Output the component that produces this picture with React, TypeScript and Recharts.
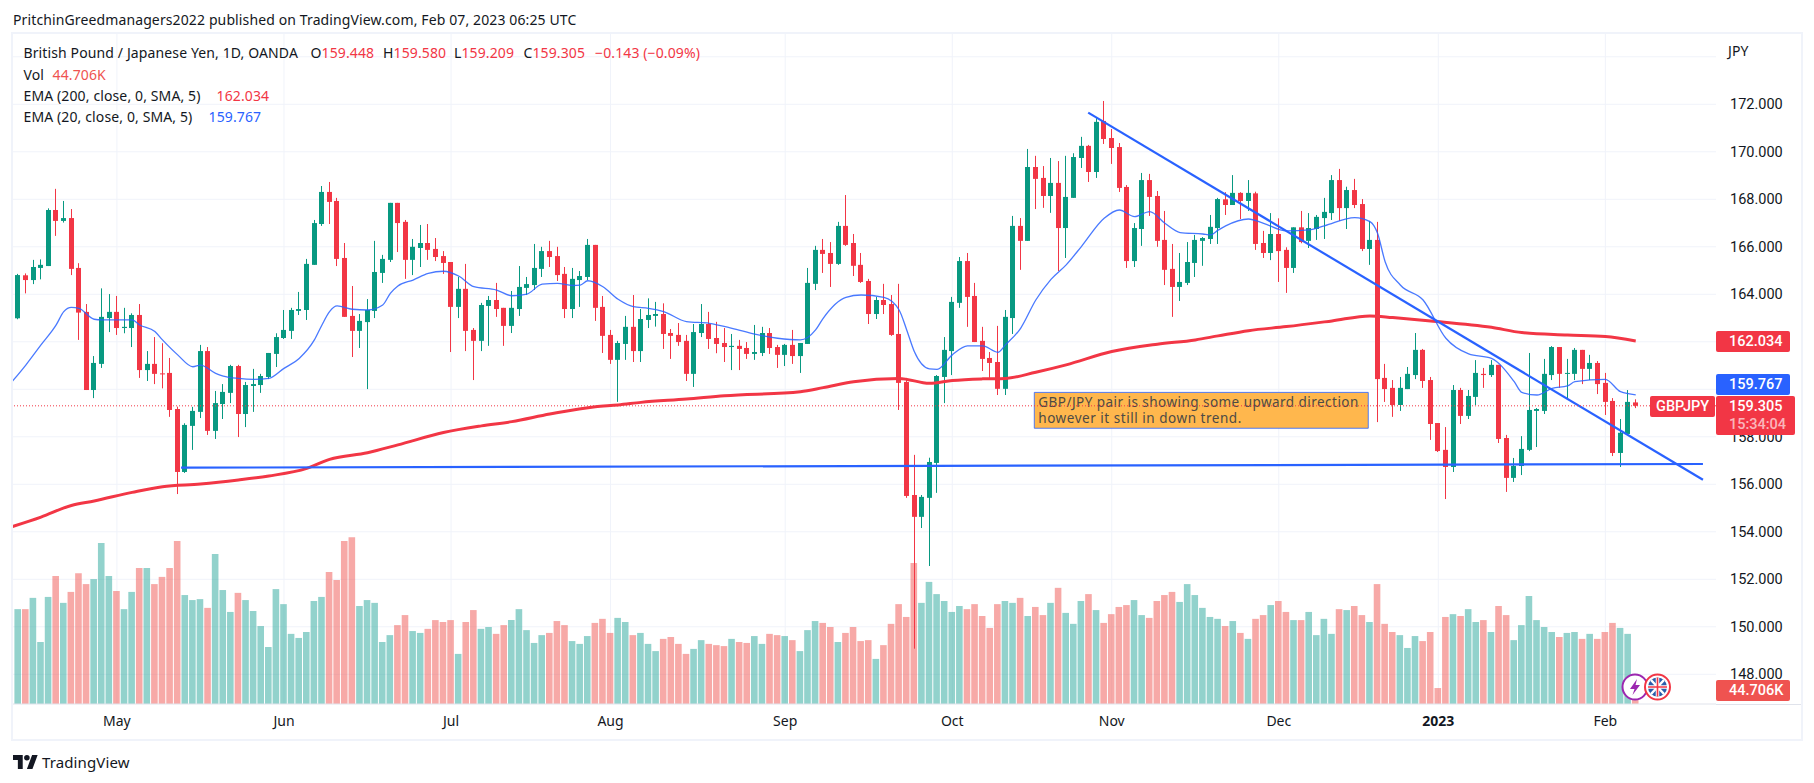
import React from 'react';
import {
    ComposedChart,
    Bar,
    Line,
    Cell,
    XAxis,
    YAxis,
    CartesianGrid,
    ReferenceLine,
    ReferenceArea
} from 'recharts';

const opens = [163.41,
    162.99,164.80,164.60,165.11,165.19,167.55,167.09,167.21,165.11,163.26,
    159.97,161.07,163.00,163.26,162.58,162.58,163.13,160.81,161.07,160.67,
    160.69,159.17,156.52,158.46,159.05,161.61,158.25,159.38,159.85,160.98,
    158.96,160.14,160.18,160.52,161.49,162.16,162.46,163.30,163.34,165.24,
    166.96,168.31,167.93,165.53,163.09,162.46,162.83,163.30,164.90,165.45,
    167.85,167.05,165.45,165.95,166.16,165.91,165.61,165.36,163.47,164.23,
    162.50,162.04,163.51,163.76,163.43,162.67,163.38,164.27,164.39,165.07,
    165.82,165.61,164.86,163.38,164.60,164.73,166.08,163.47,162.29,161.24,
    161.91,162.63,161.61,162.92,163.09,163.17,162.37,162.29,162.04,160.65,
    162.37,162.75,162.16,161.95,161.78,161.83,161.74,161.49,161.53,162.37,
    161.78,161.45,161.87,161.40,161.91,164.44,165.87,165.74,165.28,166.88,
    166.16,165.24,164.56,163.17,163.76,163.59,162.33,160.31,155.55,154.63,
    155.43,156.90,160.52,161.61,163.64,165.40,163.93,162.04,161.32,161.15,
    160.02,163.00,166.88,166.25,169.36,168.90,168.14,168.69,166.79,168.06,
    169.74,170.25,169.15,171.30,170.58,170.20,168.52,165.40,166.75,168.81,
    168.14,166.29,165.07,164.31,164.48,165.32,166.25,166.33,166.79,168.00,
    167.76,168.27,167.93,168.25,166.16,165.74,166.54,165.87,165.11,166.82,
    166.25,166.75,167.21,167.42,168.81,167.63,168.39,167.80,165.91,166.29,
    160.48,160.06,159.34,160.01,160.60,161.66,160.39,158.58,157.45,156.73,
    159.97,158.88,159.68,160.65,160.60,161.03,157.95,156.27,156.77,157.45,
    159.09,159.09,160.60,161.78,160.65,160.65,161.66,160.86,161.11,160.27,
    159.51,157.32,158.12,159.448];

const highs = [163.6,
    164.86,164.88,165.45,165.47,167.62,168.44,167.93,167.59,165.31,163.59,
    161.40,164.25,164.01,163.93,163.43,163.20,163.59,161.61,162.20,161.94,
    161.32,159.27,158.57,159.26,161.87,161.78,159.93,160.22,161.03,161.03,
    160.31,160.86,160.65,161.53,162.36,163.34,163.43,164.10,165.49,167.13,
    168.56,168.73,168.06,166.16,164.35,163.17,163.80,166.25,165.66,167.85,
    167.85,167.13,166.33,166.92,166.96,166.37,165.82,165.36,164.74,165.28,
    162.58,163.64,163.93,164.48,163.43,164.14,165.19,164.73,166.12,166.00,
    166.25,166.00,165.15,165.11,164.98,166.33,166.08,163.93,162.50,162.04,
    163.09,163.97,163.38,163.83,163.68,163.62,162.54,162.79,162.29,162.75,
    163.59,163.26,162.84,162.58,162.33,162.08,161.99,162.71,162.63,162.58,
    161.87,161.91,162.50,161.95,165.11,166.04,166.33,166.20,167.05,168.18,
    166.54,165.74,164.65,163.89,164.44,163.97,164.44,160.48,157.24,155.55,
    157.12,160.60,162.20,163.89,165.57,165.74,164.48,162.63,161.57,162.67,
    163.34,167.30,167.21,170.12,169.83,169.40,169.74,169.61,169.83,169.94,
    170.63,170.29,171.43,172.14,170.96,170.37,168.60,167.00,169.11,169.07,
    168.35,167.51,166.12,165.74,166.20,166.50,166.41,167.34,168.06,168.30,
    169.02,168.30,168.81,168.32,166.67,167.42,167.20,165.98,166.82,167.51,
    167.42,167.34,168.06,169.02,169.28,168.53,168.86,168.01,167.09,167.05,
    161.07,160.39,160.52,160.94,162.37,161.70,160.52,158.58,158.41,160.18,
    160.06,159.97,161.23,160.90,161.23,161.03,158.08,157.11,158.03,161.53,
    159.21,161.28,161.82,161.78,161.28,161.74,161.66,161.45,161.19,160.69,
    159.63,158.75,159.97,159.58];

const lows = [162.9,
    162.95,164.04,164.43,164.63,165.19,166.46,167.02,164.81,162.08,159.97,
    159.63,160.90,162.41,162.29,162.36,161.78,160.48,160.35,160.22,160.04,
    158.84,155.59,156.48,157.45,158.79,158.08,157.91,158.75,159.42,157.99,
    158.41,159.05,159.85,160.43,160.94,162.12,162.12,163.13,162.92,165.24,
    166.88,166.96,165.19,163.05,161.36,161.74,160.01,163.00,164.48,165.36,
    165.78,164.65,164.81,165.15,165.45,165.40,164.86,161.57,163.00,161.61,
    160.39,161.61,161.83,163.05,161.83,162.37,163.09,163.97,164.18,164.73,
    165.15,164.56,163.00,163.00,163.47,164.60,162.88,161.53,161.07,159.47,
    161.24,161.15,161.15,162.58,162.64,161.70,161.28,161.83,160.35,160.10,
    162.20,161.70,161.52,161.15,160.81,160.81,161.28,161.24,161.40,161.49,
    160.90,160.98,161.07,160.69,161.91,164.18,164.90,164.31,165.24,166.04,
    164.77,164.48,162.75,162.96,163.17,162.25,159.13,155.43,149.08,154.16,
    152.56,155.64,159.42,160.60,163.43,162.63,161.99,160.77,160.48,159.76,
    159.76,162.33,165.03,166.25,167.59,167.64,167.43,164.98,165.53,168.06,
    169.32,168.73,168.90,170.33,169.49,168.31,165.11,165.15,166.04,167.30,
    166.00,164.39,163.05,163.72,164.39,164.73,165.20,166.12,166.12,167.34,
    167.76,167.17,167.51,165.87,165.53,165.44,164.52,164.06,164.90,166.15,
    165.95,166.29,166.33,167.13,167.09,166.75,167.63,165.82,165.24,158.62,
    159.47,158.84,159.09,160.01,160.43,160.06,157.87,157.36,155.38,156.52,
    158.54,158.75,159.34,160.06,160.52,157.74,155.68,156.10,156.39,157.40,
    157.57,158.96,160.39,160.06,159.55,160.39,160.22,160.39,159.80,158.92,
    157.19,156.73,158.08,159.209];

const closes = [162.99,
    164.81,164.60,165.15,165.24,167.55,167.09,167.21,165.07,163.23,159.97,
    161.11,163.05,163.26,162.58,162.63,163.13,160.81,161.07,160.65,160.65,
    159.13,156.52,158.50,159.09,161.61,158.25,159.42,159.89,160.98,158.96,
    160.18,160.22,160.56,161.53,162.20,162.50,163.34,163.38,165.28,167.00,
    168.31,167.89,165.49,163.05,162.46,162.88,163.34,164.94,165.49,167.85,
    167.00,165.45,166.00,166.16,165.87,165.57,165.32,163.47,164.23,162.46,
    162.04,163.55,163.76,163.38,162.67,163.43,164.31,164.43,165.11,165.82,
    165.57,164.81,163.38,164.65,164.77,166.08,163.43,162.25,161.24,161.95,
    162.63,161.61,162.96,163.13,163.17,162.33,162.25,161.99,160.65,162.41,
    162.75,162.12,161.91,161.78,161.83,161.70,161.49,161.57,162.37,161.74,
    161.45,161.87,161.40,161.95,164.48,165.87,165.70,165.28,166.88,166.08,
    165.20,164.52,163.17,163.76,163.55,162.29,160.27,155.51,154.63,155.47,
    156.94,160.56,161.66,163.68,165.40,163.89,161.99,161.28,161.11,160.02,
    163.05,166.88,166.25,169.36,168.86,168.14,168.69,166.79,168.10,169.78,
    170.25,169.15,171.26,170.54,170.16,168.48,165.40,166.79,168.81,168.10,
    166.25,165.03,164.31,164.52,165.36,166.29,166.37,166.84,168.01,167.76,
    168.27,167.93,168.27,166.12,165.74,166.54,165.82,165.11,166.82,166.20,
    166.79,167.26,167.47,168.81,167.63,168.39,167.76,165.91,166.29,160.43,
    160.01,159.34,160.06,160.65,161.66,160.35,158.54,157.40,156.73,159.97,
    158.88,159.72,160.69,160.60,161.03,157.91,156.27,156.77,157.49,159.13,
    159.17,160.65,161.78,160.65,160.69,161.66,160.86,161.11,160.22,159.47,
    157.32,158.17,159.47,159.305];

// volume in thousands
const volumes = [null,
    303,303,339,198,342,409,323,358,418,383,
    399,514,409,361,303,358,434,434,383,406,
    434,521,348,332,335,307,479,364,294,355,
    332,297,249,182,367,319,224,211,230,329,
    342,422,396,521,533,313,332,323,198,220,
    252,284,233,227,240,268,262,268,160,262,
    300,240,246,224,252,268,303,236,195,220,
    227,265,252,201,192,217,259,272,227,275,
    262,220,227,192,169,208,214,192,160,176,
    204,192,188,185,208,198,195,217,192,224,
    220,217,204,169,236,265,259,246,198,227,
    246,201,204,144,188,256,319,278,450,323,
    390,351,329,294,313,303,319,281,243,319,
    329,323,339,281,310,284,323,371,291,256,
    329,351,300,259,287,310,316,332,284,275,
    329,348,358,326,383,348,307,278,272,
    249,265,227,208,272,284,316,329,294,268,
    268,294,220,272,224,303,300,313,284,262,
    383,256,230,220,179,217,201,230,51,278,
    287,281,303,262,268,230,313,284,204,252,
    345,268,246,230,214,227,230,208,224,208,
    230,259,243,224,44.706];

const ema20Index = [0,2,4,6,7,8,9,11,12,16,17,19,20,22,24,25,27,28,30,32,34,36,38,40,41,42,43,45,47,49,50,51,53,55,57,59,61,64,66,68,70,72,74,75,76,78,80,
    82,84,86,89,92,95,98,101,104,106,107,110,112,115,117,118,119,121,122,124,126,128,130,131,133,135,137,139,141,144,146,148,150,152,154,157,158,159,
    160,163,165,168,171,173,177,179,180,181,183,186,189,192,195,198,199,201,203,205,206,210,212,214];
const ema20Values = [160.25,161.02,161.87,162.71,163.27,163.45,163.41,162.95,162.92,162.92,162.71,162.43,162.08,161.45,160.95,161.02,160.67,160.56,160.46,160.42,160.46,160.88,161.30,162.08,162.71,163.27,163.51,163.37,163.34,163.55,164.04,164.35,164.60,164.88,164.97,164.77,164.32,164.18,163.94,164.01,164.43,164.46,164.37,164.39,164.57,164.32,163.79,
    163.48,163.41,163.27,162.85,162.78,162.57,162.32,162.15,162.08,162.50,162.99,163.87,163.97,163.87,163.34,162.50,161.59,160.86,160.84,161.45,161.83,161.83,161.56,161.87,162.57,163.76,164.63,165.24,166.01,167.20,167.55,167.27,167.48,166.99,166.60,166.54,166.50,166.70,
    166.88,167.17,166.99,166.67,166.71,166.88,167.23,167.06,166.57,165.37,164.39,163.76,162.15,161.49,161.30,160.32,159.87,159.76,160.04,160.14,160.32,160.42,159.90,159.767];

const ema200Index = [0,4,8,11,16,20,25,30,34,39,42,47,51,57,62,66,71,77,80,83,89,94,104,107,111,117,121,124,128,131,135,139,145,151,156,159,163,168,174,179,182,187,195,199,205,210,214];
const ema200Values = [154.2,154.62,155.11,155.30,155.66,155.90,156.01,156.18,156.35,156.67,157.05,157.33,157.66,158.18,158.46,158.64,158.96,159.27,159.34,159.45,159.59,159.73,159.90,160.07,160.32,160.46,160.25,160.37,160.44,160.46,160.72,161.03,161.59,161.90,162.08,162.25,162.47,162.64,162.88,163.09,163.02,162.88,162.61,162.39,162.29,162.22,162.034];

const monthTicks = [14, 36, 58, 79, 102, 124, 145, 167, 188, 210];
const monthLabels = ['May', 'Jun', 'Jul', 'Aug', 'Sep', 'Oct', 'Nov', 'Dec', '2023', 'Feb'];
// 160 and 162 sit behind the price tags, so only their grid lines are drawn
const priceTicks = [148, 150, 152, 154, 156, 158, 164, 166, 168, 170, 172];
const gridPrices = [148, 150, 152, 154, 156, 158, 160, 162, 164, 166, 168, 170, 172, 174];

const lastPrice = 159.305;
const upColor = '#089981';
const downColor = '#f23645';
const FONT = 'Roboto, sans-serif';
const LEGEND_FONT = '"Noto Sans", sans-serif';

const ema20ByIndex = new Map(ema20Index.map((idx, k) => [idx, ema20Values[k]]));
const ema200ByIndex = new Map(ema200Index.map((idx, k) => [idx, ema200Values[k]]));

const rows = opens.map((open, i) => ({
    i,
    open,
    high: highs[i],
    low: lows[i],
    close: closes[i],
    range: [lows[i], highs[i]],
    volume: volumes[i],
    ema20: ema20ByIndex.get(i) ?? null,
    ema200: ema200ByIndex.get(i) ?? null
}));

const Candle = (props: any) => {
    const { x, y, width, height, payload } = props;
    if (!payload || height == null) return null;
    const { open, high, low, close } = payload;
    const color = close < open ? downColor : upColor;
    const yOf = (p: number) => y + ((high - p) / (high - low)) * height;
    const top = yOf(Math.max(open, close));
    const bottom = yOf(Math.min(open, close));
    const left = Math.round(x);
    return (
        <g>
            <rect x={left + Math.floor(width / 2)} y={y} width={1} height={height} fill={color} />
            <rect x={left} y={top} width={width} height={Math.max(bottom - top, 1)} fill={color} />
        </g>
    );
};

const MonthTick = (props: any) => {
    const { x, y, payload } = props;
    const label = monthLabels[monthTicks.indexOf(payload.value)];
    return (
        <text
            x={x}
            y={y}
            dy={14}
            textAnchor="middle"
            fill="#131722"
            fontFamily={LEGEND_FONT}
            fontSize={14}
            fontWeight={label === '2023' ? 700 : 400}
        >
            {label}
        </text>
    );
};

const NoteLabel = (props: any) => {
    const { x, y } = props.viewBox;
    const style = { fontFamily: LEGEND_FONT, fontSize: 13.5, fill: '#4d4a45' };
    return (
        <g>
            <text x={x + 4} y={y + 15} textLength={320} {...style}>GBP/JPY pair is showing some upward direction</text>
            <text x={x + 4} y={y + 30.5} textLength={203} {...style}>however it still in down trend.</text>
        </g>
    );
};

const box = (left: number, top: number, width: number, height: number, bg: string): React.CSSProperties => ({
    position: 'absolute',
    left,
    top,
    width,
    height,
    background: bg,
    color: '#fff',
    fontFamily: FONT,
    fontSize: 14.5,
    fontWeight: 500,
    boxSizing: 'border-box',
    paddingLeft: 13,
    lineHeight: `${height}px`,
    whiteSpace: 'nowrap',
    borderRadius: 2
});

const text = (left: number, top: number, color = '#131722', size = 14): React.CSSProperties => ({
    position: 'absolute',
    left,
    top,
    color,
    fontFamily: LEGEND_FONT,
    fontSize: size,
    letterSpacing: 0.12,
    lineHeight: '18px',
    whiteSpace: 'nowrap'
});

const Legend = () => (
    <>
        <span style={text(23.5, 44)}>British Pound / Japanese Yen, 1D, OANDA</span>
        <span style={text(310.5, 44)}>O<span style={{ color: downColor }}>159.448</span></span>
        <span style={text(383, 44)}>H<span style={{ color: downColor }}>159.580</span></span>
        <span style={text(454, 44)}>L<span style={{ color: downColor }}>159.209</span></span>
        <span style={text(523.5, 44)}>C<span style={{ color: downColor }}>159.305</span></span>
        <span style={text(595, 44, downColor)}>−0.143 (−0.09%)</span>
        <span style={text(23.5, 65.5)}>Vol</span>
        <span style={text(52.5, 65.5, '#ef5350')}>44.706K</span>
        <span style={text(23.5, 87)}>EMA (200, close, 0, SMA, 5)</span>
        <span style={text(216.5, 87, downColor)}>162.034</span>
        <span style={text(23.5, 108)}>EMA (20, close, 0, SMA, 5)</span>
        <span style={text(208.5, 108, '#2962ff')}>159.767</span>
    </>
);

const PriceTags = () => (
    <>
        <span style={text(1728, 42)}>JPY</span>
        <div style={box(1716, 331, 74, 21, downColor)}>162.034</div>
        <div style={box(1716, 374, 74, 21, '#2962ff')}>159.767</div>
        <div style={{ ...box(1650, 396, 65, 21, downColor), paddingLeft: 6 }}>GBPJPY</div>
        <div style={box(1716, 396, 79, 39, downColor)} />
        <div style={box(1716, 396, 79, 21, 'transparent')}>159.305</div>
        <div style={{ ...box(1716, 414, 79, 21, 'transparent'), color: 'rgba(255,255,255,0.65)' }}>15:34:04</div>
        <div style={box(1716, 680, 74, 21, '#ef5350')}>44.706K</div>
    </>
);

const Badges = () => (
    <svg width={60} height={32} style={{ position: 'absolute', left: 1618, top: 671 }}>
        <circle cx={17} cy={16} r={12.5} fill="#fff" stroke="#9c27b0" strokeWidth={2} />
        <path d="M19 8 L12 18 L16.5 18 L14.5 24 L22 14 L17.5 14 Z" fill="#9c27b0" />
        <circle cx={39.5} cy={16} r={12.5} fill="#fff" stroke="#f23645" strokeWidth={2} />
        <circle cx={39.5} cy={16} r={9.5} fill="#2a5caa" />
        <path d="M33 9 L46 23 M46 9 L33 23" stroke="#fff" strokeWidth={2.5} />
        <path d="M39.5 6.5 V25.5 M30 16 H49" stroke="#fff" strokeWidth={3.5} />
        <path d="M39.5 6.5 V25.5 M30 16 H49" stroke="#f23645" strokeWidth={1.6} />
    </svg>
);

const Footer = () => (
    <>
        <svg width={25} height={14} viewBox="0 0 36 20" style={{ position: 'absolute', left: 13, top: 754.5 }}>
            <path d="M14 20H7V7H0V0h14v20zM28 20h-8l7.5-20h8L28 20z" fill="#131722" />
            <circle cx={20} cy={4} r={4} fill="#131722" />
        </svg>
        <span style={text(42, 752.5, '#131722', 15)}>TradingView</span>
    </>
);

export default function App() {
    return (
        <div style={{ position: 'absolute', left: 0, top: 0, width: 1814, height: 783, background: '#fff', overflow: 'hidden' }}>
            <span style={text(13, 11)}>PritchinGreedmanagers2022 published on TradingView.com, Feb 07, 2023 06:25 UTC</span>
            <div style={{ position: 'absolute', left: 11, top: 32, width: 1788, height: 705, border: '2px solid #f0f3fa' }} />
            <div style={{ position: 'absolute', left: 1716, top: 703.5, width: 85, height: 1, background: '#e0e3eb' }} />
            <ComposedChart
                width={1814}
                height={783}
                data={rows}
                margin={{ top: 34, right: 0, bottom: 0, left: 13 }}
                style={{ position: 'absolute', left: 0, top: 0 }}
            >
                <CartesianGrid stroke="#f0f3fa" horizontalValues={gridPrices} verticalValues={monthTicks} syncWithTicks={false} />
                <XAxis
                    dataKey="i"
                    type="number"
                    domain={[0.315, 224.57]}
                    allowDataOverflow
                    ticks={monthTicks}
                    interval={0}
                    height={79}
                    stroke="#e0e3eb"
                    tickLine={false}
                    tick={<MonthTick />}
                />
                <XAxis xAxisId="vol" dataKey="i" type="number" domain={[0.315, 224.57]} allowDataOverflow hide />
                <YAxis
                    orientation="right"
                    domain={[146.75, 174.96]}
                    allowDataOverflow
                    ticks={priceTicks}
                    interval={0}
                    width={98}
                    axisLine={false}
                    tickLine={false}
                    tickMargin={8}
                    tickFormatter={(val: number) => val.toFixed(3)}
                    tick={{ fill: '#131722', fontFamily: FONT, fontSize: 14.5 }}
                />
                <YAxis yAxisId="vol" domain={[0, 2140]} allowDataOverflow hide />
                <Bar xAxisId="vol" yAxisId="vol" dataKey="volume" barSize={6.6} isAnimationActive={false}>
                    {rows.map((row) => (
                        <Cell
                            key={row.i}
                            fill={row.close < row.open ? '#ef5350' : '#26a69a'}
                            fillOpacity={0.5}
                        />
                    ))}
                </Bar>
                <Bar dataKey="range" barSize={5} shape={<Candle />} isAnimationActive={false} />
                <Line
                    type="monotone"
                    dataKey="ema200"
                    stroke="#f23645"
                    strokeWidth={3}
                    dot={false}
                    connectNulls
                    isAnimationActive={false}
                />
                <Line
                    type="monotone"
                    dataKey="ema20"
                    stroke="#2962ff"
                    strokeOpacity={0.85}
                    strokeWidth={1.3}
                    dot={false}
                    connectNulls
                    isAnimationActive={false}
                />
                <ReferenceArea
                    x1={134.8}
                    x2={178.78}
                    y1={159.87}
                    y2={158.36}
                    fill="#ffb74d"
                    fillOpacity={1}
                    stroke="#2962ff"
                    strokeOpacity={0.8}
                    label={<NoteLabel />}
                />
                <ReferenceLine
                    segment={[{ x: 141.9, y: 171.65 }, { x: 222.85, y: 156.19 }]}
                    stroke="#2962ff"
                    strokeWidth={2.2}
                />
                <ReferenceLine
                    segment={[{ x: 22.45, y: 156.7 }, { x: 222.85, y: 156.855 }]}
                    stroke="#2962ff"
                    strokeWidth={2.2}
                />
                <ReferenceLine y={lastPrice} stroke="#f23645" strokeDasharray="1 2" />
            </ComposedChart>
            <Legend />
            <PriceTags />
            <Badges />
            <Footer />
        </div>
    );
}
